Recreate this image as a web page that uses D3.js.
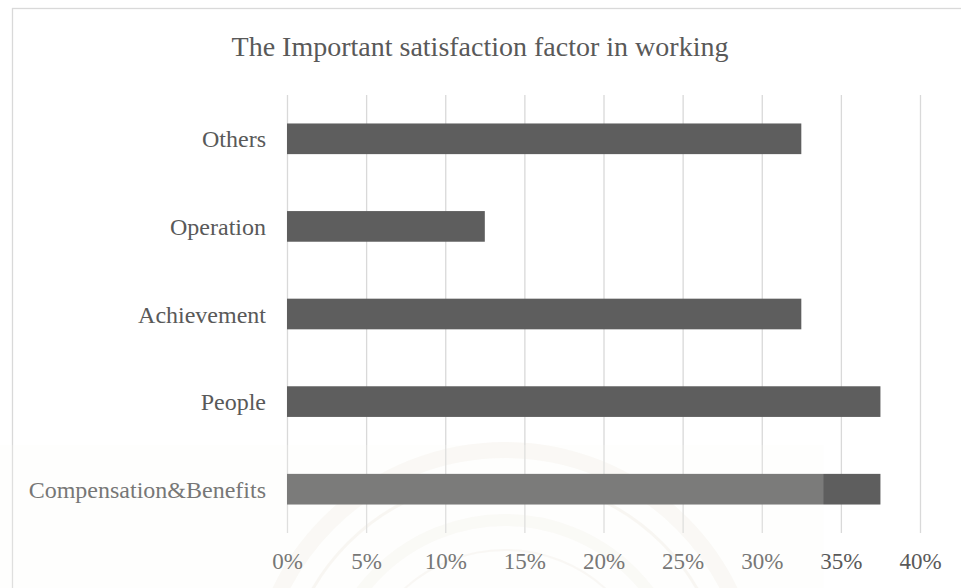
<!DOCTYPE html>
<html>
<head>
<meta charset="utf-8">
<script src="https://cdn.jsdelivr.net/npm/d3@7"></script>
<style>
  html, body { margin: 0; padding: 0; background: #fff; }
  svg { display: block; }
  text { font-family: "Liberation Serif", "Times New Roman", serif; }
</style>
</head>
<body>
<div id="chart"></div>
<script>
// Share of respondents naming each factor
const categories = ["Others", "Operation", "Achievement", "People", "Compensation&Benefits"];
const values = [0.325, 0.125, 0.325, 0.375, 0.375];
const tickValues = [0, 0.05, 0.10, 0.15, 0.20, 0.25, 0.30, 0.35, 0.40];
const title = "The Important satisfaction factor in working";

const W = 961, H = 588;
const plot = { left: 287, right: 920, top: 95, bottom: 533 };
const textColor = "#595959";
const gridColor = "#d9d9d9";
const barColor = "#5e5e5e";

const svg = d3.select("#chart").append("svg")
  .attr("width", W).attr("height", H);

svg.append("rect").attr("width", W).attr("height", H).attr("fill", "#fff");

// chart frame
svg.append("rect")
  .attr("x", 12.5).attr("y", 8.5)
  .attr("width", W + 20).attr("height", H + 20)
  .attr("fill", "none").attr("stroke", gridColor).attr("stroke-width", 1.3);

const x = d3.scaleLinear().domain([0, 0.40]).range([plot.left, plot.right]);
const y = d3.scaleBand().domain(categories)
  .range([plot.top, plot.bottom])
  .paddingInner(0.65).paddingOuter(0.325);

// faint seal in the background
const seal = svg.append("g").attr("transform", "translate(505,700)");
[[250, 16, 0.22], [222, 3, 0.3], [180, 12, 0.18], [150, 2, 0.25]].forEach(([r, w, o]) => {
  seal.append("circle").attr("r", r)
    .attr("fill", "none").attr("stroke", "#e9e1d3")
    .attr("stroke-width", w).attr("opacity", o);
});

// vertical gridlines and percent ticks
const xAxis = d3.axisBottom(x)
  .tickValues(tickValues)
  .tickSize(-(plot.bottom - plot.top))
  .tickPadding(20)
  .tickFormat(d3.format(".0%"));

const gx = svg.append("g")
  .attr("transform", `translate(0,${plot.bottom})`)
  .call(xAxis);
gx.select(".domain").remove();
gx.selectAll(".tick line").attr("stroke", gridColor).attr("stroke-width", 1.3);
gx.selectAll(".tick text")
  .attr("fill", textColor)
  .attr("font-size", "23px");

// bars
svg.append("g").selectAll("rect")
  .data(categories)
  .join("rect")
  .attr("x", x(0))
  .attr("y", d => y(d))
  .attr("width", (d, i) => x(values[i]) - x(0))
  .attr("height", y.bandwidth())
  .attr("fill", barColor);

// category labels
const yAxis = d3.axisLeft(y).tickSize(0).tickPadding(21);
const gy = svg.append("g")
  .attr("transform", `translate(${plot.left},0)`)
  .call(yAxis);
gy.select(".domain").remove();
gy.selectAll(".tick text")
  .attr("fill", textColor)
  .attr("font-size", "24px")
  .attr("dy", "0.36em");

// translucent layer of the seal over the lower part
svg.append("rect")
  .attr("x", 0).attr("y", 445)
  .attr("width", 823.5).attr("height", H - 445)
  .attr("fill", "#fbf9f5").attr("opacity", 0.19);

// title
svg.append("text")
  .attr("x", 480).attr("y", 56)
  .attr("text-anchor", "middle")
  .attr("fill", textColor)
  .attr("font-size", "28px")
  .text(title);
</script>
</body>
</html>
